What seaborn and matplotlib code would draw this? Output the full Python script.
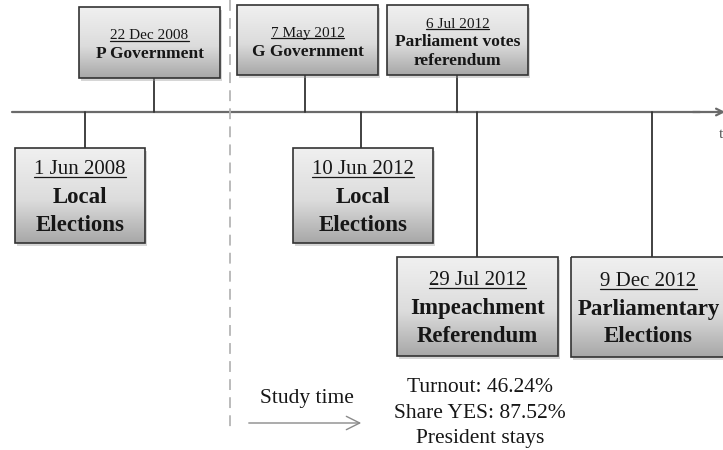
import matplotlib.pyplot as plt
import numpy as np
import seaborn as sns
from matplotlib.colors import LinearSegmentedColormap
from matplotlib.patches import Rectangle

sns.set_theme(style="white")
plt.rcParams["font.family"] = ["Liberation Serif", "DejaVu Serif"]

# Eventos da linha do tempo (ordem cronológica)
datas = ["1 Jun 2008", "22 Dec 2008", "7 May 2012", "10 Jun 2012",
         "6 Jul 2012", "29 Jul 2012", "9 Dec 2012"]
eventos = ["Local\nElections", "P Government", "G Government",
           "Local\nElections", "Parliament votes\nreferendum",
           "Impeachment\nReferendum", "Parliamentary\nElections"]
lado = ["below", "above", "above", "below", "above", "below", "below"]

resultado_referendo = ["Turnout: 46.24%", "Share YES: 87.52%", "President stays"]
rotulo_estudo = "Study time"
rotulo_eixo = "t"

# Layout em coordenadas de pixel (x0, y0, x1, y1) e posição da haste
caixas = [(15, 148, 145, 243), (79, 7, 220, 78), (237, 5, 378, 75),
          (293, 148, 433, 243), (387, 5, 528, 75), (397, 257, 558, 356),
          (571, 257, 732, 357)]
haste_x = [85, 154, 305, 361, 457, 477, 652]
Y_LINHA = 112
COR_TEXTO = "#161616"

cmap_caixa = LinearSegmentedColormap.from_list(
    "cx", [(0, "#f0f0f0"), (0.55, "#dcdcdc"), (1, "#a8a8a8")])

fig, ax = plt.subplots(figsize=(7.23, 4.5), dpi=100)
fig.subplots_adjust(0, 0, 1, 1)
ax.set_xlim(0, 723)
ax.set_ylim(450, 0)
ax.axis("off")

# linha do tempo principal
sns.lineplot(x=[12, 700], y=[Y_LINHA, Y_LINHA], color="#6a6a6a", lw=1.6, ax=ax)
ax.annotate("", xy=(728, Y_LINHA), xytext=(690, Y_LINHA),
            arrowprops=dict(arrowstyle="->", color="#6a6a6a", lw=1.6),
            annotation_clip=False)
ax.text(719, 135, rotulo_eixo, fontsize=11, color="#555555", ha="left", va="center")

# separador do período de estudo
ax.plot([230, 230], [0, 430], color="#b5b5b5", lw=1.3, ls=(0, (6, 4)))

textos_data = []
for data, ev, sd, (x0, y0, x1, y1), hx in zip(datas, eventos, lado, caixas, haste_x):
    grande = sd == "below"
    # haste
    if sd == "above":
        ax.plot([hx, hx], [y1, Y_LINHA], color="#333333", lw=1.3, zorder=2)
    else:
        ax.plot([hx, hx], [Y_LINHA, y0], color="#333333", lw=1.3, zorder=2)
    # sombra
    ax.add_patch(Rectangle((x0 + 2, y0 + 3), x1 - x0, y1 - y0,
                           facecolor="#9a9a9a", edgecolor="none", alpha=0.4, zorder=3))
    # caixa com gradiente
    borda = Rectangle((x0, y0), x1 - x0, y1 - y0, facecolor="none",
                      edgecolor="#333333", lw=1.2, zorder=5)
    ax.add_patch(borda)
    grad = np.linspace(0, 1, 64).reshape(-1, 1)
    im = ax.imshow(grad, cmap=cmap_caixa, extent=(x0, x1, y1, y0), origin="upper",
                   aspect="auto", zorder=4, interpolation="bilinear")
    im.set_clip_path(borda)

    linhas = ev.split("\n")
    n = len(linhas) + 1
    passo = 28 if grande else 18.5
    cy = (y0 + y1) / 2 + (2 if grande else 2.5)
    ys = [cy + (i - (n - 1) / 2) * passo for i in range(n)]
    cx = (x0 + x1) / 2 - (3 if x1 > 723 else 0)
    t = ax.text(cx, ys[0], data, fontsize=15 if grande else 11, color=COR_TEXTO,
                ha="center", va="center", zorder=6)
    textos_data.append(t)
    for yy, ln in zip(ys[1:], linhas):
        ax.text(cx, yy, ln, fontsize=16.5 if grande else 12.5, fontweight="bold",
                color=COR_TEXTO, ha="center", va="center", zorder=6)

# resultados do referendo
for i, ln in enumerate(resultado_referendo):
    ax.text(480, 388 + i * 25, ln, fontsize=15.5, color=COR_TEXTO, ha="center", va="center")

ax.text(307, 398, rotulo_estudo, fontsize=15.5, color=COR_TEXTO, ha="center", va="center")
ax.annotate("", xy=(364, 423), xytext=(246, 423),
            arrowprops=dict(arrowstyle="->,head_length=0.8,head_width=0.4",
                            color="#8a8a8a", lw=1.0))

# sublinhado das datas
fig.canvas.draw()
inv = ax.transData.inverted()
for t in textos_data:
    bb = t.get_window_extent()
    (xa, ya), (xb, _) = inv.transform([(bb.x0, bb.y0 + bb.height * 0.1),
                                        (bb.x1, bb.y0)])
    ax.plot([xa, xb], [ya, ya], color=COR_TEXTO, lw=0.9, zorder=6)

fig.savefig("out.png", dpi=100)
